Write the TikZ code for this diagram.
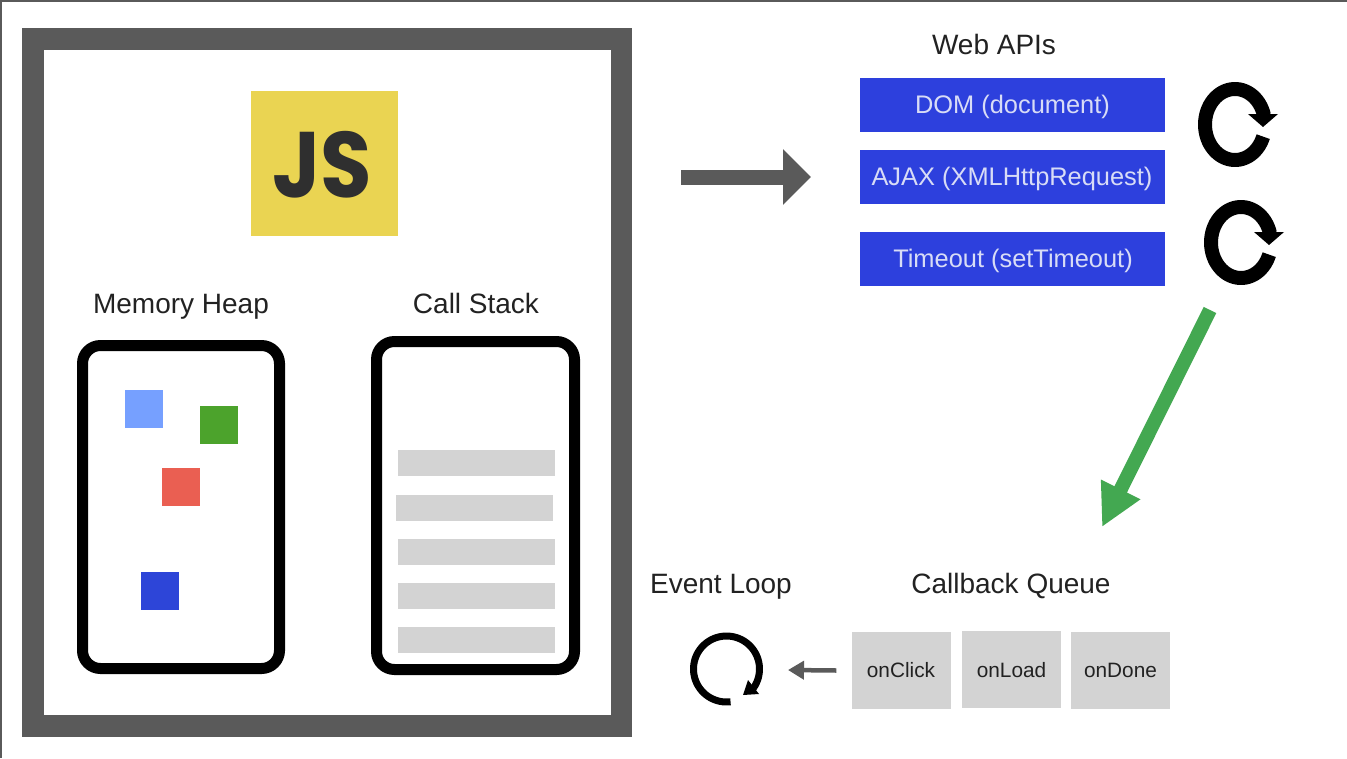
\documentclass[tikz,border=0pt]{standalone}
\usepackage{fontspec}
\setmainfont{Liberation Sans}
\newfontfamily\jsfont{Poppins}
\usetikzlibrary{arrows.meta}
\definecolor{framegray}{HTML}{5A5A5A}
\definecolor{jsyellow}{HTML}{EAD452}
\definecolor{jsdark}{HTML}{2F2F2F}
\definecolor{barblue}{HTML}{2D40DD}
\definecolor{bartext}{HTML}{D8DCF6}
\definecolor{cellgray}{HTML}{D3D3D3}
\definecolor{inkdark}{HTML}{222222}
\definecolor{arrowgreen}{HTML}{43A851}
\tikzset{
  heading/.style={text=inkdark,font=\fontsize{28}{30}\selectfont,inner sep=0pt,anchor=base},
  apibox/.style={fill=barblue,minimum width=305pt,minimum height=54pt,inner sep=0pt},
  apitext/.style={text=bartext,inner sep=0pt,anchor=base,font=\fontsize{25.4}{28}\selectfont},
  cellbox/.style={fill=cellgray,minimum width=99pt,minimum height=77pt,inner sep=0pt},
  celltext/.style={text=inkdark,inner sep=0pt,anchor=base,font=\fontsize{20.8}{24}\selectfont},
  phone/.style={draw=black,line width=11pt,rounded corners=18pt,fill=white,inner sep=0pt},
  swatch/.style={minimum width=38pt,minimum height=38pt,inner sep=0pt},
  stackbar/.style={fill=cellgray,minimum width=157pt,minimum height=26pt,inner sep=0pt},
  refresh/.pic={
    \draw[line width=14pt,black] plot[domain=20:345,samples=60] ({30*cos(\x)},{35.5*sin(\x)});
    \fill[black] (13,-10.5) -- (43,-10.5) -- (28,2.5) -- cycle;
  },
}
\begin{document}
\begin{tikzpicture}[x=1pt,y=-1pt]
\useasboundingbox (0,0) rectangle (1347,758);
\fill[white] (0,0) rectangle (1347,758);
\draw[framegray,line width=1.5pt] (0.75,758) -- (0.75,0.75) -- (1347,0.75);

% engine frame
\node[draw=framegray,line width=21.5pt,fill=white,minimum width=588.5pt,minimum height=687pt,inner sep=0pt] (engine) at (327,382.5) {};
\node[fill=jsyellow,minimum width=147pt,minimum height=145pt,inner sep=0pt] (logo) at (324.5,163.5) {};
\node[text=jsdark,inner sep=0pt,anchor=base,xscale=0.9,font=\jsfont\bfseries\fontsize{93}{93}\selectfont] (logotext) at (322.5,197.5) {JS};

\node[heading] (heaplabel) at (181,313) {Memory Heap};
\node[heading] (stacklabel) at (476,313) {Call Stack};
\node[phone,minimum width=197pt,minimum height=323pt] (heap) at (181,507) {};
\node[phone,minimum width=198pt,minimum height=328pt] (stack) at (475.5,505.5) {};

\node[swatch,fill={rgb,255:red,118;green,160;blue,255}] (s1) at (144,409) {};
\node[swatch,fill={rgb,255:red,76;green,163;blue,44}] (s2) at (219,425) {};
\node[swatch,fill={rgb,255:red,234;green,95;blue,82}] (s3) at (181,486.5) {};
\node[swatch,fill={rgb,255:red,45;green,69;blue,216}] (s4) at (160,591) {};

\node[stackbar] (b1) at (476.5,463) {};
\node[stackbar] (b2) at (474.5,508) {};
\node[stackbar] (b3) at (476.5,552) {};
\node[stackbar] (b4) at (476.5,596) {};
\node[stackbar] (b5) at (476.5,640) {};

% web APIs
\node[heading] (weblabel) at (994,54) {Web APIs};
\node[apibox] (dom) at (1012.5,105) {};
\node[apibox] (ajax) at (1012.5,177) {};
\node[apibox] (timeout) at (1012.5,259) {};
\node[apitext] (domtext) at (1012.5,113) {DOM (document)};
\node[apitext] (ajaxtext) at (1012,185) {AJAX (XMLHttpRequest)};
\node[apitext] (timeouttext) at (1013,267) {Timeout (setTimeout)};
\pic at (1235,124.5) {refresh};
\pic at (1241,242.5) {refresh};

% arrows
\coordinate (bigA) at (681,177);
\coordinate (bigB) at (811,177);
\draw[framegray,line width=15pt,-{Triangle[length=28pt,width=54pt]}] (bigA) -- (bigB);
\coordinate (greenA) at (1210,310);
\coordinate (greenB) at (1102,527);
\draw[arrowgreen,line width=14pt,-{Triangle[length=42pt,width=41pt]}] (greenA) -- (greenB);

% callback queue
\node[heading] (queuelabel) at (1011,593) {Callback Queue};
\node[heading] (looplabel) at (721,593) {Event Loop};
\node[cellbox] (click) at (901.5,670.5) {};
\node[cellbox] (load) at (1011.5,669.5) {};
\node[cellbox] (done) at (1120.5,670.5) {};
\node[celltext] (clicktext) at (901,677) {onClick};
\node[celltext] (loadtext) at (1011.5,677) {onLoad};
\node[celltext] (donetext) at (1120.5,677) {onDone};

\coordinate (loopEnd) at (788,670);
\draw[framegray,line width=4.5pt,-{Triangle[length=16pt,width=18pt]}] (click.west)++(-15.5,0) -- (loopEnd);

% event loop icon
\draw[black,line width=7pt] plot[domain=83:398,samples=70] ({726.5+33*cos(\x)},{669+33*sin(\x)});
\fill[black] (748,680) -- (759,694) -- (743,695) -- cycle;
\end{tikzpicture}
\end{document}
